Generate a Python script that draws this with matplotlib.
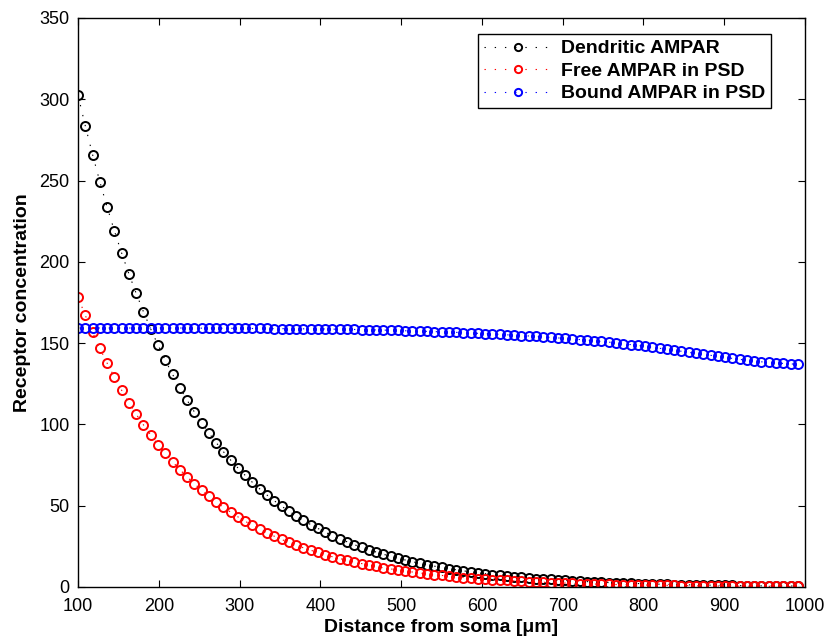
import matplotlib
matplotlib.use("Agg")
import matplotlib.pyplot as plt

# distance from soma, one sample every 9 um
x_start = 100
x_step = 9
n_points = 100
distance = [x_start + x_step * k for k in range(n_points)]

dendritic = [
    302.6, 283.7, 266.0, 249.3, 233.8, 219.1, 205.4, 192.6, 180.6, 169.3,
    158.7, 148.8, 139.5, 130.8, 122.6, 114.9, 107.7, 101.0, 94.7, 88.8,
    83.2, 78.0, 73.2, 68.6, 64.3, 60.3, 56.5, 53.0, 49.7, 46.6,
    43.7, 40.9, 38.4, 36.0, 33.7, 31.6, 29.6, 27.8, 26.0, 24.4,
    22.9, 21.5, 20.1, 18.9, 17.7, 16.6, 15.5, 14.6, 13.7, 12.8,
    12.0, 11.3, 10.6, 9.9, 9.3, 8.7, 8.2, 7.6, 7.2, 6.7,
    6.3, 5.9, 5.5, 5.2, 4.9, 4.6, 4.3, 4.0, 3.8, 3.5,
    3.3, 3.1, 2.9, 2.7, 2.6, 2.4, 2.2, 2.1, 2.0, 1.9,
    1.7, 1.6, 1.5, 1.4, 1.3, 1.2, 1.2, 1.1, 1.0, 1.0,
    0.9, 0.8, 0.8, 0.7, 0.7, 0.7, 0.6, 0.6, 0.6, 0.5,
]

free_psd = [
    178.2, 167.1, 156.6, 146.8, 137.7, 129.1, 121.0, 113.4, 106.3, 99.7,
    93.5, 87.6, 82.1, 77.0, 72.2, 67.7, 63.5, 59.5, 55.8, 52.3,
    49.0, 46.0, 43.1, 40.4, 37.9, 35.5, 33.3, 31.2, 29.2, 27.4,
    25.7, 24.1, 22.6, 21.2, 19.9, 18.6, 17.5, 16.4, 15.3, 14.4,
    13.5, 12.6, 11.8, 11.1, 10.4, 9.8, 9.2, 8.6, 8.0, 7.5,
    7.1, 6.6, 6.2, 5.8, 5.5, 5.1, 4.8, 4.5, 4.2, 4.0,
    3.7, 3.5, 3.3, 3.1, 2.9, 2.7, 2.5, 2.4, 2.2, 2.1,
    1.9, 1.8, 1.7, 1.6, 1.5, 1.4, 1.3, 1.2, 1.2, 1.1,
    1.0, 1.0, 0.9, 0.8, 0.8, 0.7, 0.7, 0.6, 0.6, 0.6,
    0.5, 0.5, 0.5, 0.4, 0.4, 0.4, 0.4, 0.3, 0.3, 0.3,
]

bound_psd = [
    159.3, 159.3, 159.3, 159.3, 159.3, 159.3, 159.3, 159.3, 159.3, 159.3,
    159.3, 159.3, 159.3, 159.3, 159.3, 159.2, 159.2, 159.2, 159.2, 159.2,
    159.1, 159.1, 159.1, 159.1, 159.0, 159.0, 159.0, 158.9, 158.9, 158.9,
    158.8, 158.8, 158.8, 158.7, 158.7, 158.6, 158.5, 158.5, 158.4, 158.3,
    158.2, 158.1, 158.0, 157.9, 157.8, 157.6, 157.5, 157.4, 157.2, 157.1,
    156.9, 156.8, 156.6, 156.4, 156.2, 156.0, 155.8, 155.6, 155.4, 155.1,
    154.9, 154.6, 154.4, 154.1, 153.8, 153.5, 153.2, 152.9, 152.5, 152.2,
    151.8, 151.4, 151.0, 150.6, 150.1, 149.6, 149.1, 148.6, 148.0, 147.4,
    146.8, 146.2, 145.6, 145.0, 144.3, 143.7, 143.1, 142.5, 141.8, 141.2,
    140.6, 140.0, 139.5, 139.0, 138.5, 138.1, 137.8, 137.5, 137.2, 137.0,
]

series_labels = ["Dendritic AMPAR", "Free AMPAR in PSD", "Bound AMPAR in PSD"]
series_colors = ["black", "red", "blue"]

x_ticks = list(range(100, 1001, 100))
y_ticks = list(range(0, 351, 50))

plt.rcParams['font.family'] = ['Liberation Sans', 'DejaVu Sans']

fig = plt.figure(figsize=(8.29, 6.38), dpi=100, facecolor='white')
ax = fig.add_axes([0.0941, 0.080, 0.8770, 0.8918])

# sparse dotted lines like the matlab ':' style
for vals, lab, col in zip([dendritic, free_psd, bound_psd], series_labels, series_colors):
    ax.plot(distance, vals, linestyle=(0, (1.2, 8)), linewidth=0.8, color=col,
            marker='o', markersize=6.5, markerfacecolor='none',
            markeredgecolor=col, markeredgewidth=1.4, label=lab)

ax.set_xlim(100, 1000)
ax.set_ylim(0, 350)
ax.set_xticks(x_ticks)
ax.set_yticks(y_ticks)
ax.tick_params(direction='in', top=True, right=True, length=5, width=0.8,
               labelsize=13, colors='black')
ax.tick_params(axis='x', pad=8)
ax.tick_params(axis='y', pad=6)
for sp in ax.spines.values():
    sp.set_linewidth(1.0)

ax.set_xlabel("Distance from soma [\u03bcm]", fontsize=14, fontweight='bold', labelpad=3)
ax.set_ylabel("Receptor concentration", fontsize=14, fontweight='bold', labelpad=6)

leg = ax.legend(loc='upper right', bbox_to_anchor=(0.953, 0.972), borderaxespad=0,
                fancybox=False, edgecolor='black', framealpha=1,
                prop={'weight': 'bold', 'size': 14},
                handlelength=3.5, handletextpad=0.45, borderpad=0.3,
                labelspacing=0.25, markerscale=0.8)
leg.get_frame().set_linewidth(1.0)

fig.savefig("out.png", dpi=100, facecolor='white')
